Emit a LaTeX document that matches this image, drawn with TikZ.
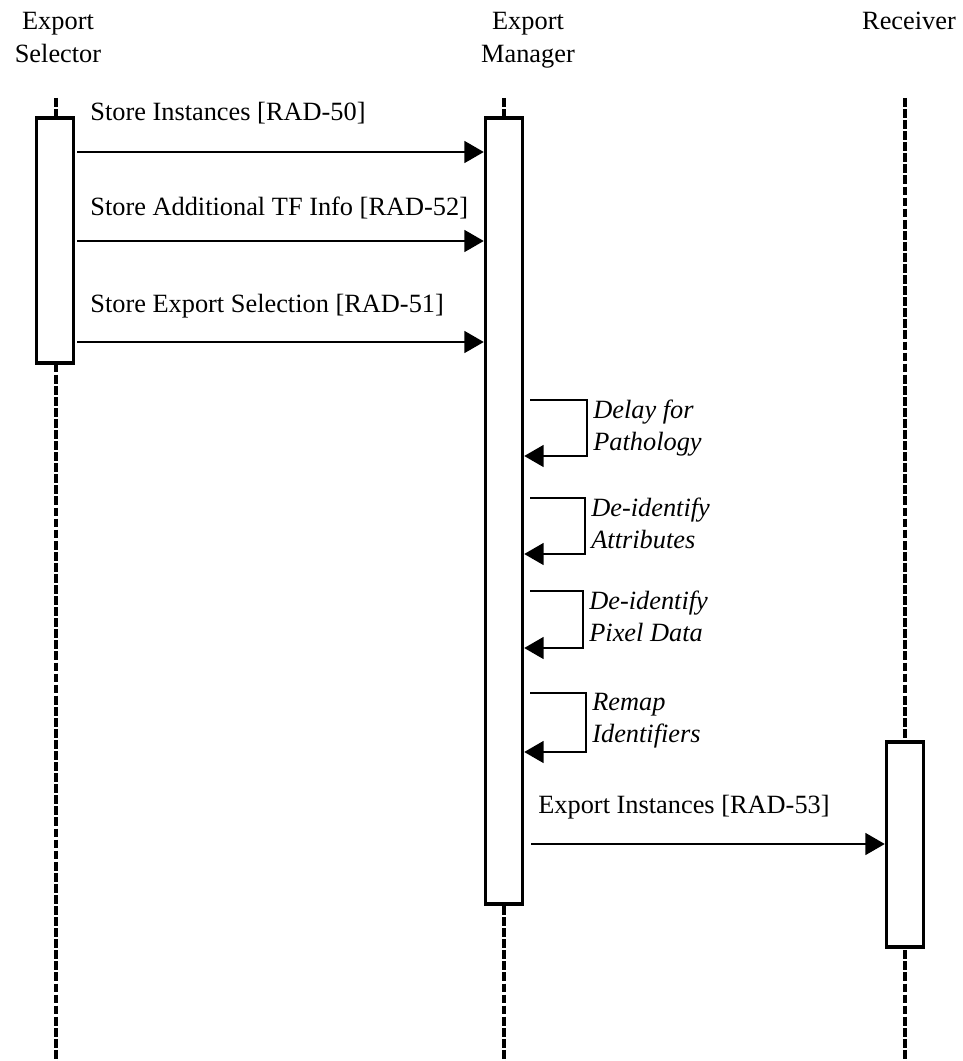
\documentclass[tikz,border=0pt]{standalone}
\usepackage{fontspec}
\setmainfont{Liberation Serif}
\usetikzlibrary{arrows.meta}
\tikzset{
  lifeline/.style={draw=black, line width=2pt, dash pattern=on 5pt off 1.3pt},
  actbox/.style={draw=black, line width=2pt, fill=white, inner sep=0pt, minimum width=0.74cm},
  msg/.style={-{Triangle[length=11pt, width=12.5pt]}, line width=0.8pt},
  msglabel/.style={anchor=base west, inner sep=0pt, font=\fontsize{15}{18}\selectfont},
  selflabel/.style={anchor=north west, inner sep=0pt, align=left, font=\fontsize{15}{18}\selectfont\itshape},
  actor/.style={anchor=north, inner sep=0pt, align=center, font=\fontsize{15}{18.7}\selectfont}
}

\begin{document}
\begin{tikzpicture}[x=0.02cm,y=-0.02cm]
\useasboundingbox (0,0) rectangle (963,1061);

% actors and lifelines
\node[actor] (selname) at (58,12) {Export\\Selector};
\node[actor] (mgrname) at (528,12) {Export\\Manager};
\node[actor] (rcvname) at (909,12) {Receiver};

\foreach \n/\x in {sel/56, mgr/504, rcv/905} {
  \coordinate (\n top) at (\x,98);
  \coordinate (\n end) at (\x,1061);
  \draw[lifeline] (\n top) -- (\n end);
}

\node[actbox, minimum height=4.9cm] (selbox) at (55,240.5) {};
\node[actbox, minimum height=15.72cm] (mgrbox) at (504,511) {};
\node[actbox, minimum height=4.1cm] (rcvbox) at (905,844.5) {};

% stores from the selector
\foreach \y/\ty/\txt [count=\i] in {
152/120/{Store Instances [RAD-50]},
241/215/{Store Additional TF Info [RAD-52]},
342/312/{Store Export Selection [RAD-51]}}
{
  \coordinate (m\i) at (0,\y);
  \draw[msg, shorten <=1.2pt] (selbox.east |- m\i) -- (mgrbox.west |- m\i);
  \node[msglabel] (msg\i) at (90,\ty) {\txt};
}

% self calls of the manager
\foreach \top/\bot/\right/\txt [count=\i] in {
400/456/587/{Delay for\\Pathology},
498/554/585/{De-identify\\Attributes},
591/648/583/{De-identify\\Pixel Data},
693/752/586/{Remap\\Identifiers}}
{
  \coordinate (top\i) at (\right,\top);
  \coordinate (bot\i) at (\right,\bot);
  \draw[msg] ([xshift=3.4pt]mgrbox.east |- top\i) -- (top\i) -- (bot\i) -- (mgrbox.east |- bot\i);
  \node[selflabel] (self\i) at ([xshift=3.4pt]top\i) {\txt};
}

\coordinate (m4) at (0,844);
\draw[msg, shorten <=4pt] (mgrbox.east |- m4) -- (rcvbox.west |- m4);
\node[msglabel] (msg4) at (538,813) {Export Instances [RAD-53]};
\end{tikzpicture}
\end{document}
